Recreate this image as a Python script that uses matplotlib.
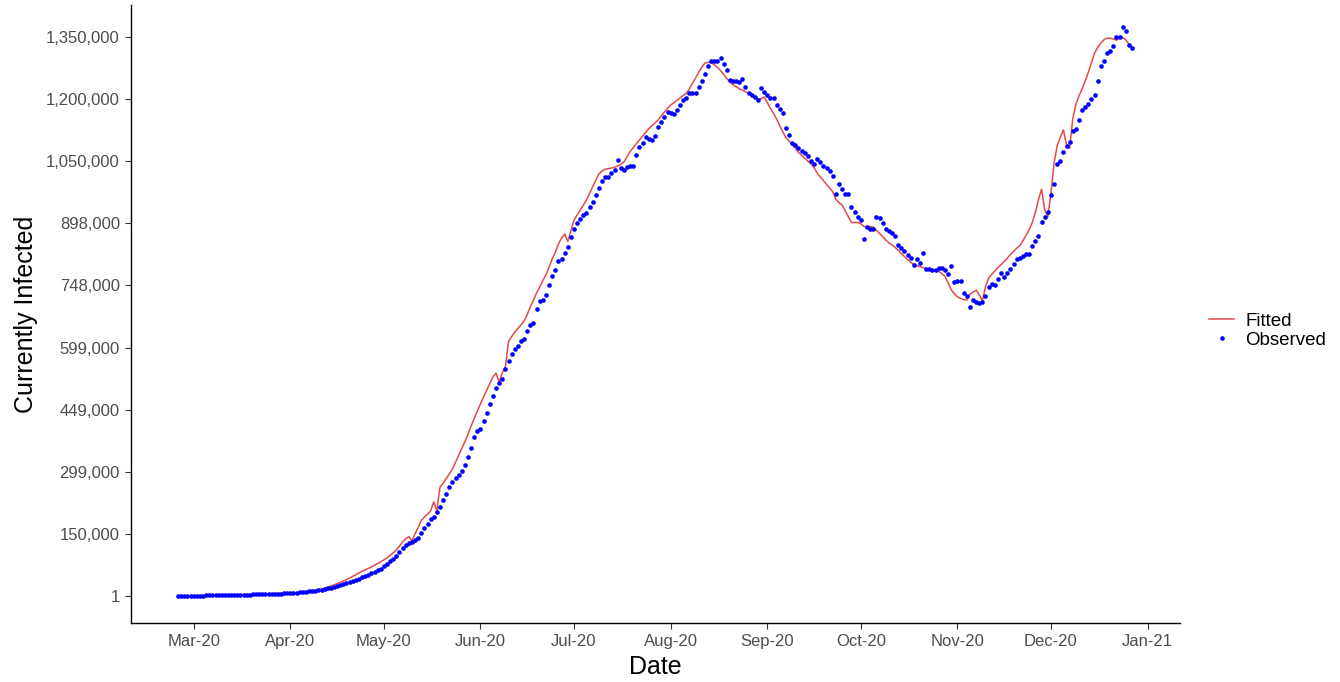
import numpy as np
import pandas as pd
import matplotlib
matplotlib.use("Agg")
import matplotlib.pyplot as plt
import matplotlib.dates as mdates
from matplotlib.lines import Line2D

plt.rcParams['font.family'] = ['Liberation Sans', 'DejaVu Sans']

start_date = "2020-02-25"

# currently infected, in thousands, one value per day
observed_k = [
    0.2, 0.2, 0.3, 0.4, 0.5, 0.6, 0.8, 0.9, 1.1, 1.3,
    1.5, 1.7, 1.9, 2.1, 2.3, 2.5, 2.7, 2.9, 3.1, 3.3,
    3.4, 3.5, 3.6, 3.6, 3.7, 3.8, 3.9, 4.1, 4.3, 4.5,
    4.8, 5.1, 5.4, 5.8, 6.2, 6.6, 7.0, 7.5, 8.0, 8.6,
    9.3, 10.1, 11.0, 12.0, 13.1, 14.3, 15.6, 17.0, 18.6, 20.5,
    22.6, 24.6, 26.3, 28.4, 30.5, 33.0, 35.6, 38.4, 41.8, 45.0,
    48.5, 51.6, 54.9, 58.3, 62.0, 66.1, 71.4, 77.2, 83.3, 90.0,
    97, 105, 115, 123, 127, 131, 136, 141, 151, 163,
    173, 185, 191, 202, 214, 231, 246, 262, 274, 285,
    291, 302, 316, 336, 357, 384, 398, 402, 422, 440,
    463, 482, 501, 514, 522, 546, 567, 583, 595, 603,
    615, 619, 639, 653, 659, 692, 712, 713, 726, 750,
    772, 786, 806, 812, 827, 842, 866, 884, 898, 909,
    917, 924, 937, 949, 965, 983, 1001, 1009, 1010, 1019,
    1027, 1051, 1031, 1027, 1033, 1035, 1035, 1062, 1083, 1091,
    1107, 1101, 1099, 1109, 1131, 1143, 1155, 1165, 1163, 1161,
    1171, 1183, 1194, 1199, 1211, 1213, 1213, 1226, 1242, 1258,
    1276, 1288, 1289, 1290, 1297, 1281, 1268, 1244, 1242, 1242,
    1239, 1245, 1226, 1213, 1207, 1202, 1194, 1224, 1215, 1207,
    1200, 1200, 1183, 1174, 1163, 1127, 1110, 1091, 1087, 1079,
    1073, 1067, 1059, 1049, 1040, 1052, 1045, 1036, 1031, 1025,
    1013, 969, 992, 981, 969, 969, 937, 926, 914, 906,
    860, 889, 885, 884, 913, 910, 898, 884, 880, 874,
    868, 845, 838, 832, 822, 814, 798, 811, 803, 826,
    788, 787, 786, 786, 791, 790, 786, 775, 796, 757,
    760, 758, 730, 723, 697, 713, 709, 705, 709, 723,
    745, 751, 750, 764, 778, 768, 779, 787, 800, 811,
    815, 819, 823, 823, 843, 855, 867, 901, 914, 925,
    967, 992, 1040, 1049, 1069, 1084, 1095, 1121, 1126, 1147,
    1171, 1178, 1186, 1198, 1206, 1242, 1276, 1290, 1308, 1314,
    1325, 1348, 1348, 1370, 1362, 1328, 1320,
]

fitted_k = [
    0.2, 0.3, 0.3, 0.4, 0.5, 0.7, 0.8, 1.0, 1.2, 1.4,
    1.6, 1.8, 2.0, 2.2, 2.4, 2.6, 2.8, 3.0, 3.2, 3.3,
    3.4, 3.5, 3.6, 3.7, 3.8, 3.9, 4.0, 4.2, 4.4, 4.7,
    5.0, 5.3, 5.7, 6.1, 6.5, 6.9, 7.4, 7.9, 8.4, 9.0,
    9.7, 10.5, 11.4, 12.5, 13.7, 15.3, 17.2, 19.3, 21.6, 24.1,
    26.8, 29.7, 32.8, 36.1, 39.6, 43.3, 47.2, 51.3, 55.6, 59.5,
    63, 66.5, 70, 74, 78, 82.5, 87, 92, 98, 104,
    111, 120, 130, 138, 143, 133, 150, 165, 182, 190,
    197, 205, 227, 205, 262, 272, 283, 294, 306, 322,
    339, 356, 372, 390, 410, 428, 446, 463, 480, 496,
    512, 528, 537, 515, 538, 553, 613, 625, 636, 645,
    653, 663, 678, 697, 713, 730, 745, 760, 774, 792,
    812, 828, 848, 862, 872, 854, 880, 906, 918, 930,
    942, 954, 970, 986, 1002, 1017, 1024, 1028, 1030, 1031,
    1033, 1036, 1040, 1046, 1058, 1071, 1080, 1090, 1099, 1108,
    1117, 1126, 1133, 1140, 1147, 1157, 1166, 1175, 1183, 1188,
    1194, 1200, 1206, 1211, 1222, 1235, 1248, 1262, 1274, 1284,
    1286, 1285, 1280, 1274, 1266, 1257, 1247, 1238, 1232, 1227,
    1222, 1219, 1215, 1211, 1206, 1201, 1196, 1198, 1202, 1189,
    1175, 1163, 1149, 1133, 1118, 1104, 1096, 1087, 1079, 1069,
    1062, 1055, 1048, 1041, 1033, 1019, 1010, 1001, 992, 983,
    974, 956, 948, 942, 928, 914, 900, 900, 900, 897,
    890, 890, 890, 889, 881, 874, 866, 858, 851, 846,
    840, 833, 825, 818, 811, 804, 799, 796, 794, 791,
    789, 787, 785, 783, 782, 777, 770, 755, 738, 728,
    721, 717, 714, 713, 727, 732, 737, 726, 711, 745,
    766, 775, 783, 792, 798, 806, 814, 823, 830, 838,
    844, 856, 869, 882, 900, 924, 955, 980, 930, 914,
    970, 1043, 1085, 1105, 1123, 1087, 1079, 1150, 1185, 1205,
    1222, 1241, 1262, 1285, 1308, 1322, 1332, 1340, 1344, 1344,
    1342, 1339, 1344, 1346, 1340, 1330, 1322,
]

y_ticks = np.linspace(1, 1347001, 10)
y_tick_labels = ["1", "150,000", "299,000", "449,000", "599,000", "748,000",
                 "898,000", "1,050,000", "1,200,000", "1,350,000"]

dates = pd.date_range(start_date, periods=len(observed_k), freq="D")
observed = np.array(observed_k) * 1000
fitted = np.array(fitted_k) * 1000

fig = plt.figure(figsize=(13.4, 6.82), dpi=100)
ax = fig.add_axes([0.0978, 0.0865, 0.7828, 0.9062])

ax.plot(dates, fitted, color="#E34A4A", lw=1.1, zorder=2)
ax.scatter(dates, observed, s=11, color="#0000FF", linewidths=0, zorder=3)

t0 = pd.Timestamp(start_date)
ax.set_xlim(t0 - pd.Timedelta(days=15.1), t0 + pd.Timedelta(days=321.4))
ax.set_ylim(-65000, 1424000)

ax.xaxis.set_major_locator(mdates.MonthLocator())
ax.xaxis.set_major_formatter(mdates.DateFormatter("%b-%y"))
ax.set_yticks(y_ticks)
ax.set_yticklabels(y_tick_labels)

for side in ["top", "right"]:
    ax.spines[side].set_visible(False)
for side in ["left", "bottom"]:
    ax.spines[side].set_linewidth(1.0)
    ax.spines[side].set_color("black")

ax.tick_params(axis="both", length=4, width=0.8, color="#333333",
               labelcolor="#4D4D4D", labelsize=12, pad=4)

ax.set_xlabel("Date", fontsize=18, labelpad=4)
ax.set_ylabel("Currently Infected", fontsize=18, labelpad=6)

handles = [
    Line2D([0], [0], color="#E34A4A", lw=1.1),
    Line2D([0], [0], color="#0000FF", marker="o", ls="none", markersize=3.3,
           markeredgewidth=0),
]
fig.legend(handles, ["Fitted", "Observed"], loc="center left",
           bbox_to_anchor=(0.89, 0.515), frameon=False, fontsize=13.5,
           handlelength=1.3, handletextpad=0.6, labelspacing=0.1)

fig.savefig("out.png", dpi=100)
